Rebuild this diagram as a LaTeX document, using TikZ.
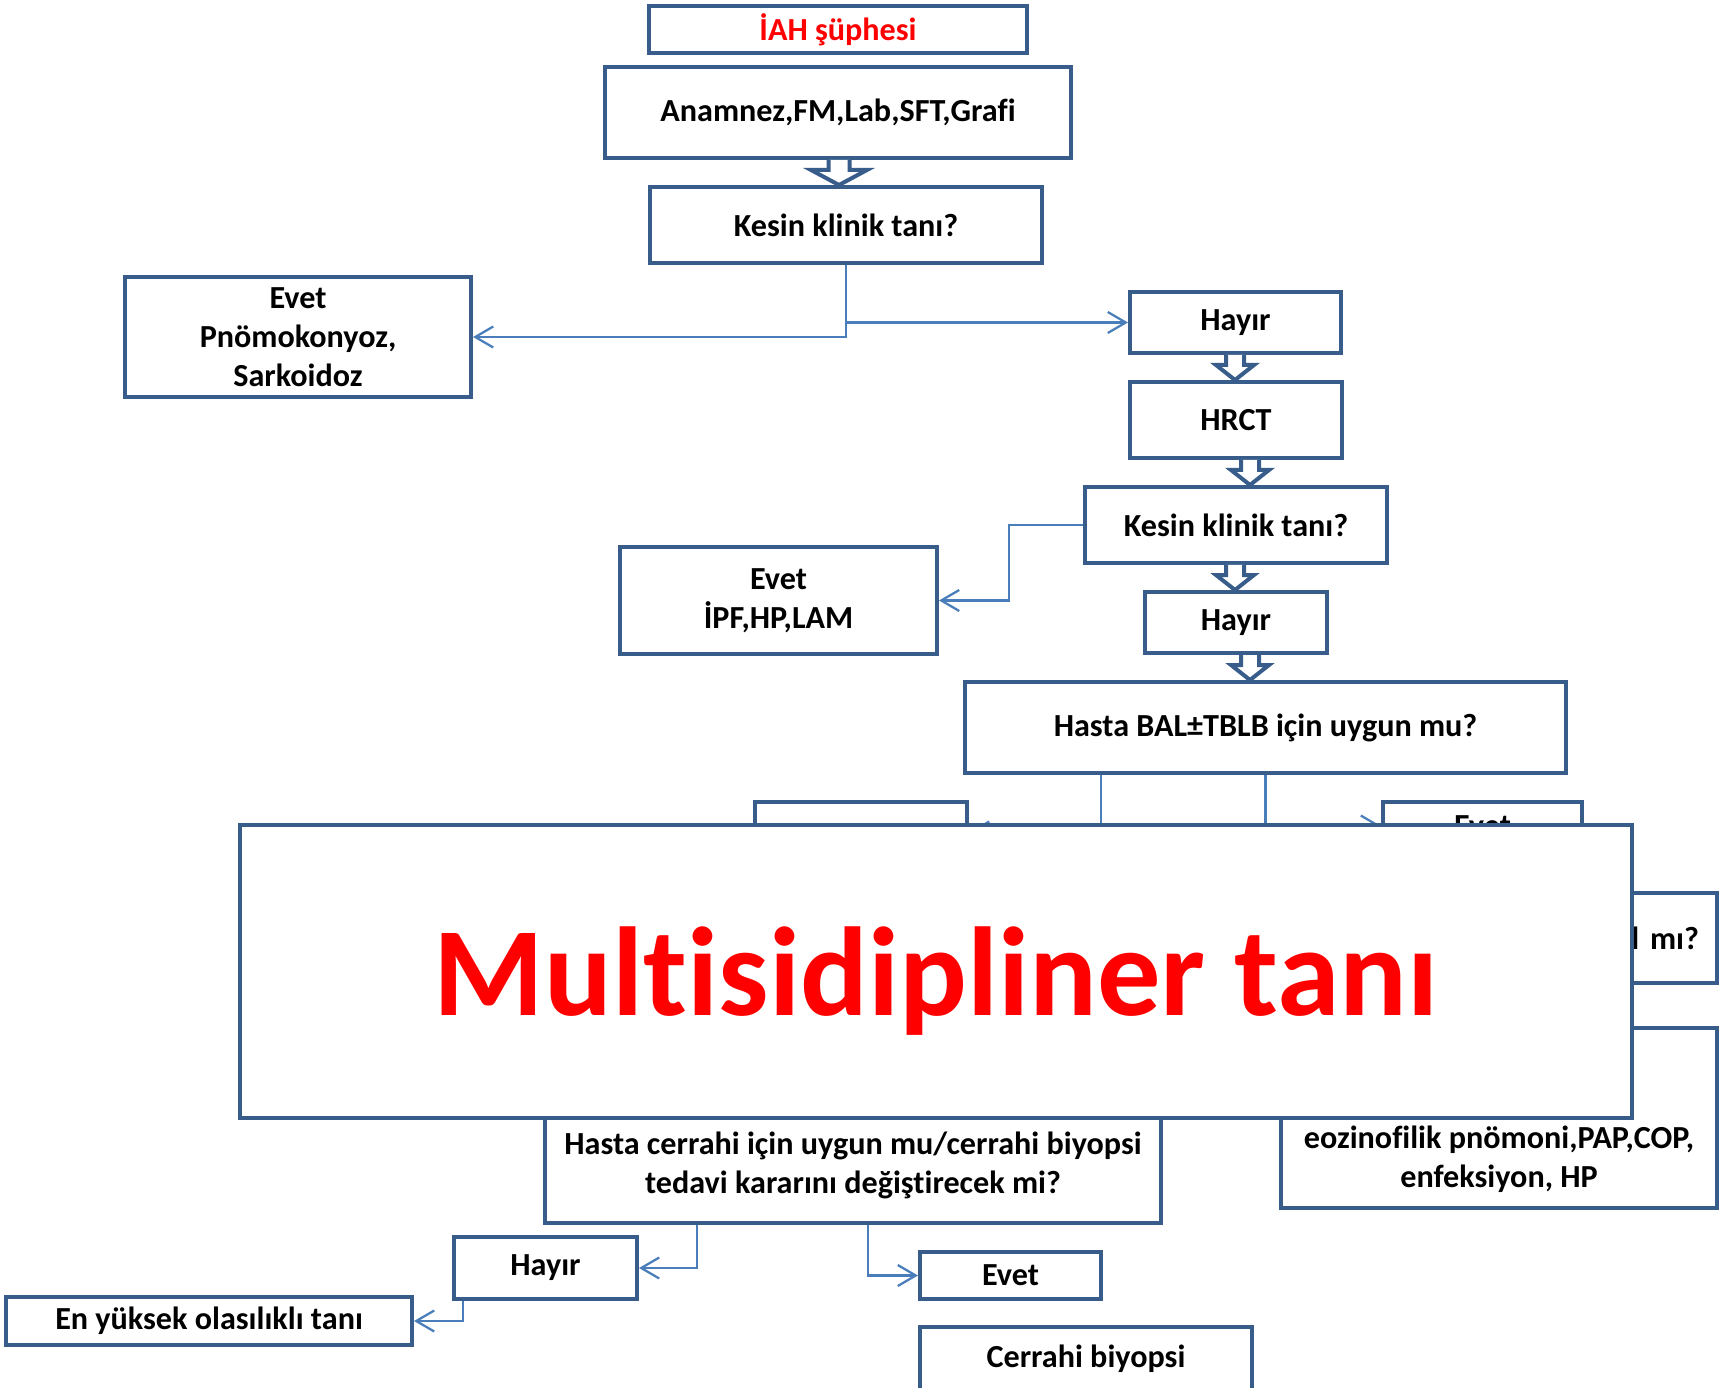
\documentclass[tikz,border=0pt]{standalone}
\usepackage{fontspec}
\setmainfont{Carlito}[Ligatures=NoCommon, RawFeature=-dlig]
\usetikzlibrary{arrows.meta,calc}
\definecolor{boxblue}{RGB}{56, 93, 138}
\definecolor{linkblue}{RGB}{74, 126, 187}
\definecolor{alertred}{RGB}{255, 0, 0}
\newcommand{\blockdown}[5]{%
  \path (#3,0) coordinate (bx);
  \path (bx |- #1.south) coordinate (btop) (bx |- #2.north) coordinate (btip);
  \filldraw[blockarr] ($(btop)+(-#4,0)$) -- ($(btip)+(-#4,-15)$) -- ($(btip)+(-#5,-15)$) -- (btip)
      -- ($(btip)+(#5,-15)$) -- ($(btip)+(#4,-15)$) -- ($(btop)+(#4,0)$);
}
\begin{document}
\begin{tikzpicture}[x=0.02cm, y=-0.02cm,
    box/.style={draw=boxblue, line width=0.08cm, fill=white, align=center, inner sep=0pt,
                font=\bfseries\fontsize{18.3}{22.2}\selectfont},
    sz/.style 2 args={minimum width=#1*0.02cm, minimum height=#2*0.02cm},
    conn/.style={linkblue, line width=0.045cm, -{Straight Barb[length=0.36cm, width=0.42cm]}},
    blockarr/.style={draw=boxblue, fill=white, line width=0.08cm}]
\useasboundingbox (0,0) rectangle (1724,1388);
\node[box, sz={378}{47}, text=alertred]  (iah)      at ( 838,  29.5) {İAH şüphesi};
\node[box, sz={466}{91}]                 (anamnez)  at ( 838, 112.5) {Anamnez,FM,Lab,SFT,Grafi};
\node[box, sz={392}{76}]                 (kesin1)   at ( 846, 225)   {Kesin klinik tanı?};
\node[box, sz={346}{120}]                (evet1)    at ( 298, 337)   {Evet\\Pnömokonyoz,\\Sarkoidoz};
\node[box, sz={211}{61}]                 (hayir1)   at (1235.5, 322.5) {Hayır};
\node[box, sz={212}{76}]                 (hrct)     at (1236, 420)   {HRCT};
\node[box, sz={302}{76}]                 (kesin2)   at (1236, 525)   {Kesin klinik tanı?};
\node[box, sz={317}{107}]                (evet2)    at ( 778.5, 600.5) {Evet\\İPF,HP,LAM};
\node[box, sz={182}{61}]                 (hayir2)   at (1236, 622.5) {Hayır};
\node[box, sz={601}{91}]                 (bal)      at (1265.5, 727.5) {Hasta BAL±TBLB için uygun mu?};
\node[box, sz={212}{60}]                 (hayir4)   at ( 861, 832)   {};
\node[box, sz={199}{48}]                 (evet4)    at (1482.5, 826) {Evet};
\node[box, sz={317}{90}, text width=5.62cm, inner xsep=0.36cm, align=right]
                                         (tanisal)  at (1558.5, 938) {l mı?};
\node[box, sz={436}{180}]                (eoz)      at (1499, 1118)  {\strut\\\strut\\eozinofilik pnömoni,PAP,COP,\\enfeksiyon, HP};
\node[box, sz={616}{116}]                (cerrahi)  at ( 853, 1165)  {Hasta cerrahi için uygun mu/cerrahi biyopsi\\tedavi kararını değiştirecek mi?};
\node[box, sz={183}{62}]                 (hayir3)   at ( 545.5, 1268) {Hayır};
\node[box, sz={181}{47}]                 (evet3)    at (1010.5, 1275.5) {Evet};
\node[box, sz={332}{63}]                 (biyopsi)  at (1086, 1358.5) {Cerrahi biyopsi};
\node[box, sz={406}{48}]                 (enyuksek) at ( 209, 1321)  {En yüksek olasılıklı tanı};
\blockdown{anamnez}{kesin1}{839}{10.5}{28}
\blockdown{hayir1}{hrct}{1235}{9}{19}
\blockdown{hrct}{kesin2}{1250}{9}{19}
\blockdown{kesin2}{hayir2}{1235}{9}{19}
\blockdown{hayir2}{bal}{1250}{9}{19}
\draw[conn] (kesin1.south) |- (evet1.east);
\draw[conn] (kesin1.south) |- (hayir1.west);
\draw[conn] (kesin2.west) -- ++(-74,0) |- (evet2.east);
\draw[conn] ([xshift=-3.29cm]bal.south) |- (hayir4.east);
\draw[conn] (bal.south) |- (evet4.west);
\draw[conn] ([xshift=-3.12cm]cerrahi.south) |- (hayir3.east);
\draw[conn] ([xshift=0.3cm]cerrahi.south) |- (evet3.west);
\draw[conn] ([xshift=-1.65cm]hayir3.south) |- (enyuksek.east);
\node[box, sz={1392}{293}, text=alertred, text depth=0pt, font=\bfseries\fontsize{72}{80}\selectfont]
                                         (mdt)      at ( 936, 971.5) {Multisidipliner tanı};
\end{tikzpicture}
\end{document}
